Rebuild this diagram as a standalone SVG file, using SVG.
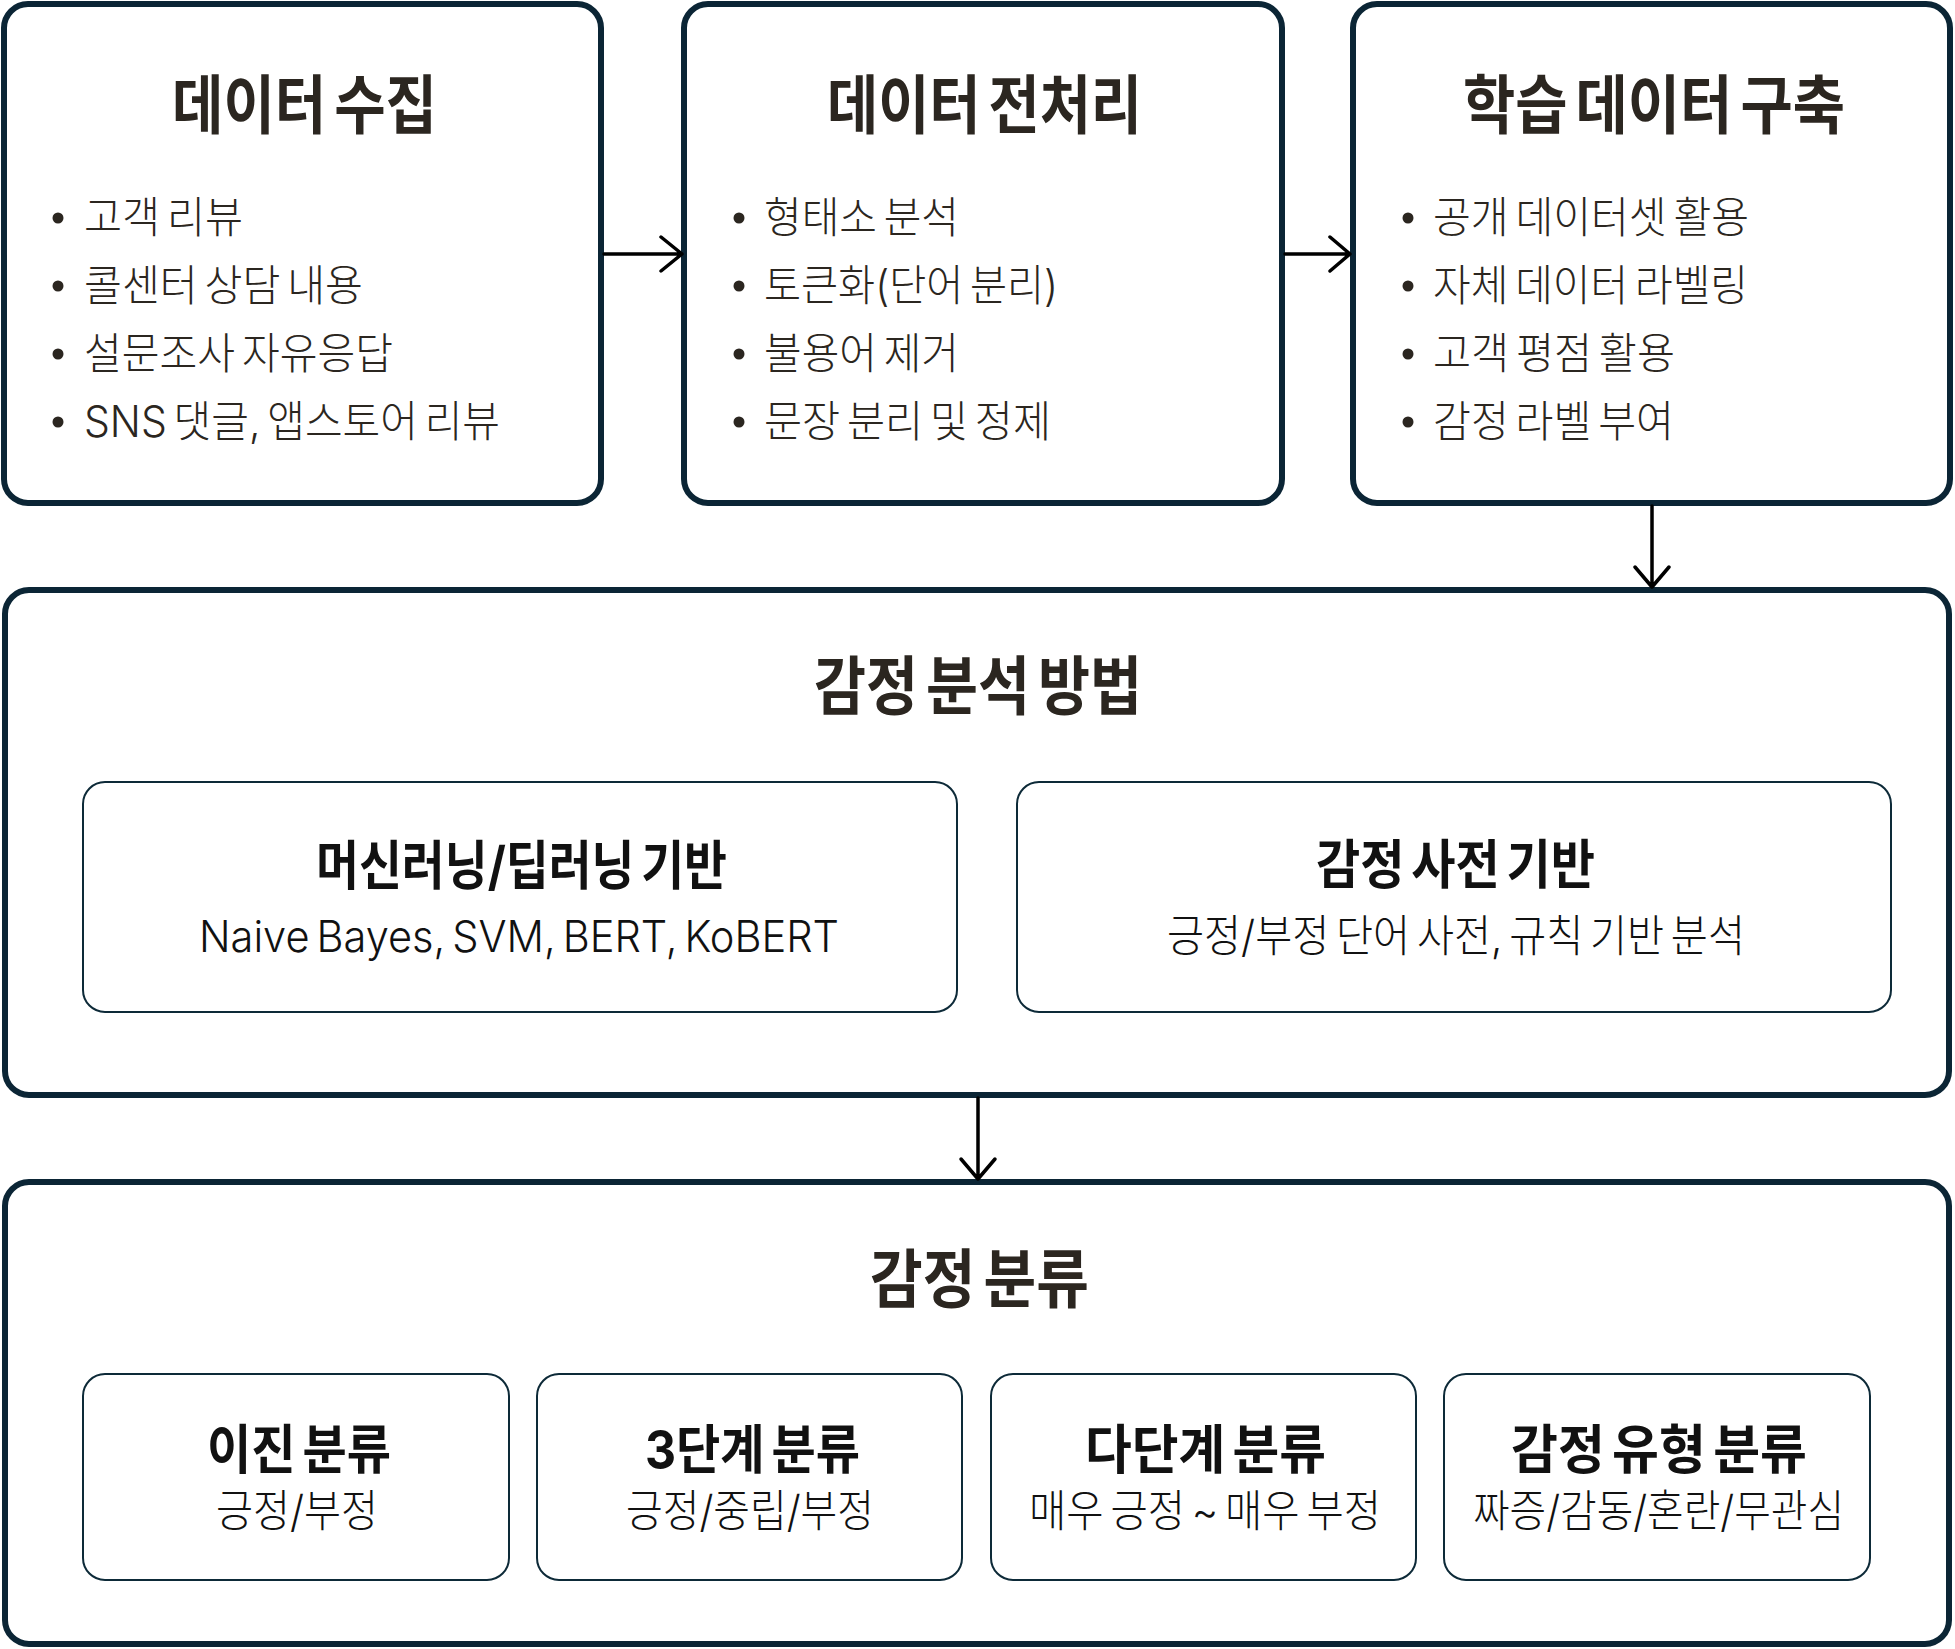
<svg xmlns="http://www.w3.org/2000/svg" width="1955" height="1649" viewBox="0 0 1955 1649">
<style>
.box{fill:#fff;stroke:#0b2535;stroke-width:6}
.inner{fill:#fff;stroke:#0d2a38;stroke-width:2}
text{font-family:Inter,"Noto Sans CJK KR",sans-serif}
.h1{font-size:64px;font-weight:700;fill:#2b2620;word-spacing:-6px}
.li{font-size:43px;font-weight:300;fill:#2b2620;word-spacing:-5px}
.h2{font-size:53px;font-weight:700;fill:#111;word-spacing:-5px}
.sub{font-size:44px;font-weight:300;fill:#111;word-spacing:-5px}
.dot{fill:#2b2620}
.arrow{stroke:#000;stroke-width:3.5;fill:none;stroke-linecap:round;stroke-linejoin:round}
</style>
<rect width="1955" height="1649" fill="#fff"/>

<g id="node-collect">
<rect class="box" x="4" y="4" width="597" height="499" rx="24"/>
<text class="h1" x="172" y="128" textLength="265" lengthAdjust="spacingAndGlyphs">데이터 수집</text>
<circle class="dot" cx="58" cy="218" r="5.5"/>
<text class="li" x="84" y="233" textLength="159" lengthAdjust="spacingAndGlyphs">고객 리뷰</text>
<circle class="dot" cx="58" cy="286" r="5.5"/>
<text class="li" x="84" y="301" textLength="279" lengthAdjust="spacingAndGlyphs">콜센터 상담 내용</text>
<circle class="dot" cx="58" cy="354" r="5.5"/>
<text class="li" x="84" y="369" textLength="309" lengthAdjust="spacingAndGlyphs">설문조사 자유응답</text>
<circle class="dot" cx="58" cy="422" r="5.5"/>
<text class="li" x="84" y="437" textLength="416" lengthAdjust="spacingAndGlyphs">SNS 댓글, 앱스토어 리뷰</text>
</g>

<g id="node-preprocess">
<rect class="box" x="684" y="4" width="598" height="499" rx="24"/>
<text class="h1" x="827" y="128" textLength="315" lengthAdjust="spacingAndGlyphs">데이터 전처리</text>
<circle class="dot" cx="739" cy="218" r="5.5"/>
<text class="li" x="764" y="233" textLength="195" lengthAdjust="spacingAndGlyphs">형태소 분석</text>
<circle class="dot" cx="739" cy="286" r="5.5"/>
<text class="li" x="764" y="301" textLength="294" lengthAdjust="spacingAndGlyphs">토큰화(단어 분리)</text>
<circle class="dot" cx="739" cy="354" r="5.5"/>
<text class="li" x="764" y="369" textLength="195" lengthAdjust="spacingAndGlyphs">불용어 제거</text>
<circle class="dot" cx="739" cy="422" r="5.5"/>
<text class="li" x="764" y="437" textLength="287" lengthAdjust="spacingAndGlyphs">문장 분리 및 정제</text>
</g>

<g id="node-build">
<rect class="box" x="1353" y="4" width="597" height="499" rx="24"/>
<text class="h1" x="1463" y="128" textLength="382" lengthAdjust="spacingAndGlyphs">학습 데이터 구축</text>
<circle class="dot" cx="1408" cy="218" r="5.5"/>
<text class="li" x="1433" y="233" textLength="316" lengthAdjust="spacingAndGlyphs">공개 데이터셋 활용</text>
<circle class="dot" cx="1408" cy="286" r="5.5"/>
<text class="li" x="1433" y="301" textLength="315" lengthAdjust="spacingAndGlyphs">자체 데이터 라벨링</text>
<circle class="dot" cx="1408" cy="354" r="5.5"/>
<text class="li" x="1433" y="369" textLength="242" lengthAdjust="spacingAndGlyphs">고객 평점 활용</text>
<circle class="dot" cx="1408" cy="422" r="5.5"/>
<text class="li" x="1433" y="437" textLength="241" lengthAdjust="spacingAndGlyphs">감정 라벨 부여</text>
</g>

<g id="node-methods">
<rect class="box" x="5" y="590" width="1944" height="505" rx="24"/>
<text class="h1" x="814" y="709" textLength="328" lengthAdjust="spacingAndGlyphs">감정 분석 방법</text>
</g>
<g id="node-ml">
<rect class="inner" x="83" y="782" width="874" height="230" rx="22"/>
<text class="h2" x="316" y="885" textLength="411" lengthAdjust="spacingAndGlyphs">머신러닝/딥러닝 기반</text>
<text class="sub" x="199" y="952" textLength="640" lengthAdjust="spacingAndGlyphs">Naive Bayes, SVM, BERT, KoBERT</text>
</g>
<g id="node-lexicon">
<rect class="inner" x="1017" y="782" width="874" height="230" rx="22"/>
<text class="h2" x="1316" y="884" textLength="279" lengthAdjust="spacingAndGlyphs">감정 사전 기반</text>
<text class="sub" x="1167" y="952" textLength="578" lengthAdjust="spacingAndGlyphs">긍정/부정 단어 사전, 규칙 기반 분석</text>
</g>

<g id="node-classify">
<rect class="box" x="5" y="1182" width="1944" height="462" rx="24"/>
<text class="h1" x="870" y="1302" textLength="219" lengthAdjust="spacingAndGlyphs">감정 분류</text>
</g>
<g id="node-binary">
<rect class="inner" x="83" y="1374" width="426" height="206" rx="22"/>
<text class="h2" x="207" y="1469" textLength="184" lengthAdjust="spacingAndGlyphs">이진 분류</text>
<text class="sub" x="216" y="1527" textLength="162" lengthAdjust="spacingAndGlyphs">긍정/부정</text>
</g>
<g id="node-three">
<rect class="inner" x="537" y="1374" width="425" height="206" rx="22"/>
<text class="h2" x="645" y="1469" textLength="215" lengthAdjust="spacingAndGlyphs">3단계 분류</text>
<text class="sub" x="626" y="1527" textLength="248" lengthAdjust="spacingAndGlyphs">긍정/중립/부정</text>
</g>
<g id="node-multi">
<rect class="inner" x="991" y="1374" width="425" height="206" rx="22"/>
<text class="h2" x="1085" y="1469" textLength="241" lengthAdjust="spacingAndGlyphs">다단계 분류</text>
<text class="sub" x="1029" y="1527" textLength="352" lengthAdjust="spacingAndGlyphs">매우 긍정 ~ 매우 부정</text>
</g>
<g id="node-type">
<rect class="inner" x="1444" y="1374" width="426" height="206" rx="22"/>
<text class="h2" x="1511" y="1469" textLength="296" lengthAdjust="spacingAndGlyphs">감정 유형 분류</text>
<text class="sub" x="1473" y="1527" textLength="371" lengthAdjust="spacingAndGlyphs">짜증/감동/혼란/무관심</text>
</g>

<g id="connectors" class="arrow">
<path d="M604 254H682M661 237L682 254L661 271"/>
<path d="M1285 254H1350M1330 237L1350 254L1330 271"/>
<path d="M1652 506V587M1635 567L1652 587L1669 567"/>
<path d="M978 1098V1179M961 1159L978 1179L995 1159"/>
</g>
</svg>
